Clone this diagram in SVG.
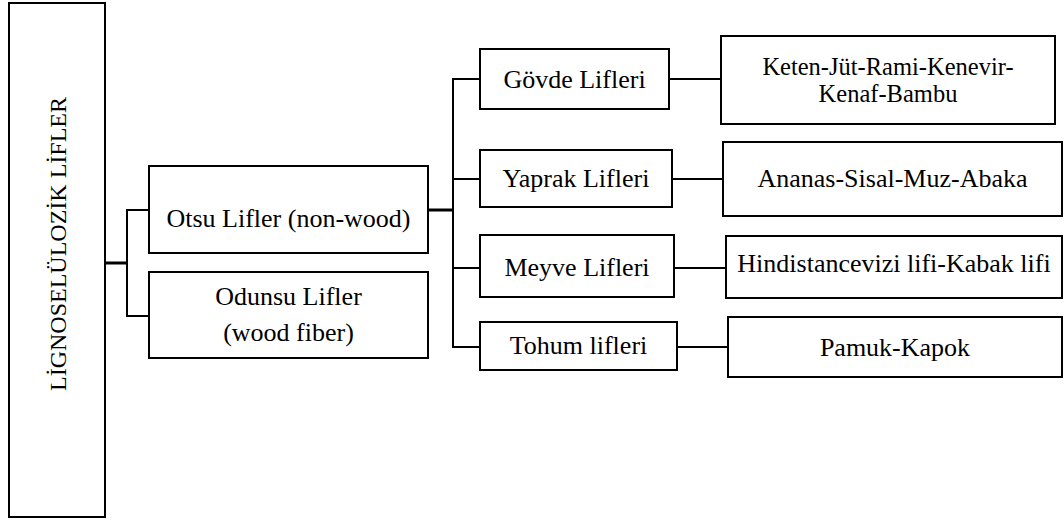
<svg xmlns="http://www.w3.org/2000/svg" width="1064" height="523" viewBox="0 0 1064 523">
  <style>
    .box { fill: #ffffff; stroke: #000000; stroke-width: 2; }
    .lbl { font-family: "Liberation Serif", serif; font-size: 26px; fill: #000000; text-anchor: middle; }
    .root { font-size: 24px; }
    .two { font-size: 24.5px; }
    .wire { fill: none; stroke: #000000; stroke-width: 2; }
    .trunk { fill: none; stroke: #000000; stroke-width: 3; }
  </style>
  <rect width="1064" height="523" fill="#ffffff"/>

  <!-- connectors -->
  <g id="connectors">
    <line class="trunk" x1="105" y1="263" x2="127" y2="263"/>
    <path class="wire" d="M149 210 H127 V316 H149"/>
    <line class="trunk" x1="428" y1="210" x2="453" y2="210"/>
    <path class="wire" d="M480 79 H453 V347 H480"/>
    <line class="wire" x1="453" y1="179" x2="480" y2="179"/>
    <line class="wire" x1="453" y1="268" x2="480" y2="268"/>
    <line class="wire" x1="669" y1="79" x2="721" y2="79"/>
    <line class="wire" x1="672" y1="179" x2="723" y2="179"/>
    <line class="wire" x1="674" y1="268" x2="726" y2="268"/>
    <line class="wire" x1="677" y1="347" x2="728" y2="347"/>
  </g>

  <!-- root -->
  <g id="lignoseluloz">
    <rect class="box" x="9" y="3" width="96" height="514"/>
    <text class="lbl root" transform="translate(66,244) rotate(-90)">LİGNOSELÜLOZİK LİFLER</text>
  </g>

  <!-- second level -->
  <g id="otsu">
    <rect class="box" x="149" y="166" width="279" height="87"/>
    <text class="lbl" x="288.5" y="227">Otsu Lifler (non-wood)</text>
  </g>
  <g id="odunsu">
    <rect class="box" x="149" y="272" width="279" height="86"/>
    <text class="lbl" x="288.5" y="305">Odunsu Lifler</text>
    <text class="lbl" x="288.5" y="341">(wood fiber)</text>
  </g>

  <!-- third level -->
  <g id="govde">
    <rect class="box" x="480" y="49" width="189" height="60"/>
    <text class="lbl" x="574.5" y="88">Gövde Lifleri</text>
  </g>
  <g id="yaprak">
    <rect class="box" x="480" y="150" width="192" height="57"/>
    <text class="lbl" x="576" y="187">Yaprak Lifleri</text>
  </g>
  <g id="meyve">
    <rect class="box" x="480" y="235" width="194" height="62"/>
    <text class="lbl" x="577" y="276">Meyve Lifleri</text>
  </g>
  <g id="tohum">
    <rect class="box" x="480" y="322" width="197" height="48"/>
    <text class="lbl" x="578.5" y="354">Tohum lifleri</text>
  </g>

  <!-- examples -->
  <g id="keten">
    <rect class="box" x="721" y="36" width="334" height="88"/>
    <text class="lbl two" x="888" y="75">Keten-Jüt-Rami-Kenevir-</text>
    <text class="lbl two" x="888" y="102">Kenaf-Bambu</text>
  </g>
  <g id="ananas">
    <rect class="box" x="723" y="142" width="339" height="74"/>
    <text class="lbl" x="892.5" y="187">Ananas-Sisal-Muz-Abaka</text>
  </g>
  <g id="hindistancevizi">
    <rect class="box" x="726" y="236" width="336" height="62"/>
    <text class="lbl" x="894" y="272">Hindistancevizi lifi-Kabak lifi</text>
  </g>
  <g id="pamuk">
    <rect class="box" x="728" y="317" width="334" height="60"/>
    <text class="lbl" x="895" y="356">Pamuk-Kapok</text>
  </g>
</svg>
